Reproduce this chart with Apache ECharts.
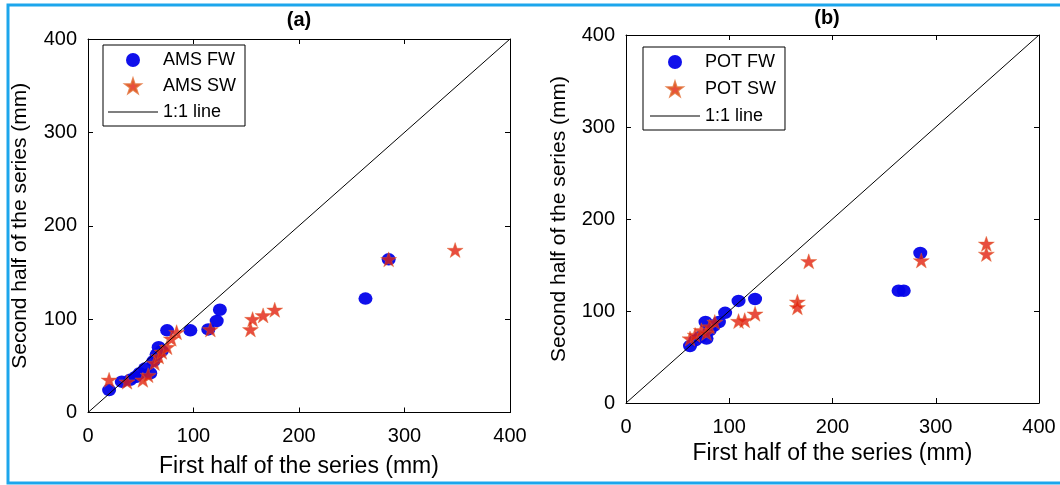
<!DOCTYPE html>
<html>
<head>
<meta charset="utf-8">
<script src="https://cdn.jsdelivr.net/npm/echarts@6/dist/echarts.min.js"></script>
<style>
html,body{margin:0;padding:0;background:#fff;}
#chart{width:1060px;height:485px;}
</style>
</head>
<body>
<div id="chart"></div>
<script>
// ---- data (mm) ----
var axisTicks = [0, 100, 200, 300, 400];
var panelTitles = ['(a)', '(b)'];
var xTitle = 'First half of the series (mm)';
var yTitle = 'Second half of the series (mm)';
var namesA = ['AMS FW', 'AMS SW', '1:1 line'];
var namesB = ['POT FW', 'POT SW', '1:1 line'];
var oneToOne = [[0, 0], [400, 400]];

var amsFW = [[20,24],[32,33],[40,35],[45,38],[49,42],[54,47],[59,42],[62,55],[65,62],[67,70],[70,66],[75,88],[97,88],[114,89],[122,98],[125,110],[263,122],[285,164]];
var amsSW = [[20,35],[37,33],[52,35],[57,40],[63,53],[67,60],[70,65],[75,70],[79,79],[84,86],[116,89],[154,89],[156,100],[166,104],[177,110],[285,164],[348,174]];
var potFW = [[62,62],[67,68],[72,72],[77,88],[78,70],[81,79],[85,84],[90,88],[96,98],[109,111],[125,113],[264,122],[269,122],[285,163]];
var potSW = [[62,70],[67,74],[73,79],[78,76],[81,83],[86,88],[109,89],[115,90],[125,97],[166,110],[166,104],[177,154],[286,155],[349,173],[349,162]];

// ---- styling ----
var FONT = '"Liberation Sans", Arial, sans-serif';
var BLUE = '#0303EA';
var RED = '#E2200F';
var STAR = 'path://M50,0 L61.8,35.5 L99,35.5 L68.9,57.4 L80.4,93 L50,71 L19.6,93 L31.1,57.4 L1,35.5 L38.2,35.5 Z';
var LINE_ICON = 'path://M0,0 L100,0 L100,2.4 L0,2.4 Z';

var grids = [
  {left: 88, top: 39, width: 422, height: 373.5},
  {left: 626, top: 35, width: 413, height: 368}
];

function mkX(gi, pos, nameGap) {
  var main = pos === 'bottom';
  return {
    gridIndex: gi, type: 'value', position: pos,
    min: axisTicks[0], max: axisTicks[axisTicks.length - 1], interval: axisTicks[1] - axisTicks[0],
    name: main ? xTitle : '', nameLocation: 'middle', nameGap: nameGap,
    nameTextStyle: {fontFamily: FONT, fontSize: 23, color: '#000'},
    axisLine: {show: true, onZero: false, lineStyle: {color: '#000', width: 1}},
    axisTick: {show: true, inside: true, length: 5, lineStyle: {color: '#000'}},
    axisLabel: {show: main, fontFamily: FONT, fontSize: 20, color: '#000', margin: 14},
    splitLine: {show: false}
  };
}
function mkY(gi, pos, nameGap) {
  var main = pos === 'left';
  return {
    gridIndex: gi, type: 'value', position: pos,
    min: axisTicks[0], max: axisTicks[axisTicks.length - 1], interval: axisTicks[1] - axisTicks[0],
    name: main ? yTitle : '', nameLocation: 'middle', nameGap: nameGap, nameRotate: 90,
    nameTextStyle: {fontFamily: FONT, fontSize: 21, color: '#000'},
    axisLine: {show: true, onZero: false, lineStyle: {color: '#000', width: 1}},
    axisTick: {show: true, inside: true, length: 5, lineStyle: {color: '#000'}},
    axisLabel: {show: main, fontFamily: FONT, fontSize: 20, color: '#000', margin: 11},
    splitLine: {show: false}
  };
}

function fwSeries(name, data, xi) {
  return {name: name, type: 'scatter', xAxisIndex: xi, yAxisIndex: xi, data: data,
    symbol: 'circle', symbolSize: [14, 12.5], z: 3,
    itemStyle: {color: BLUE, opacity: 0.95}};
}
function swSeries(name, data, xi) {
  return {name: name, type: 'scatter', xAxisIndex: xi, yAxisIndex: xi, data: data,
    symbol: STAR, symbolSize: [16, 15], z: 4,
    itemStyle: {color: RED, borderColor: '#E0662A', borderWidth: 0.5}};
}
function lineSeries(xi) {
  return {name: '1:1 line', type: 'line', xAxisIndex: xi, yAxisIndex: xi, data: oneToOne,
    symbol: 'none', showSymbol: false, z: 5,
    itemStyle: {color: '#000'}, lineStyle: {color: '#000', width: 1}};
}

function mkLegend(names, left, top, pad, gap) {
  return {
    data: [
      {name: names[0], icon: 'circle'},
      {name: names[1], icon: STAR},
      {name: names[2], icon: LINE_ICON, itemStyle: {color: '#000', borderWidth: 0}}
    ],
    orient: 'vertical', left: left, top: top,
    padding: pad, itemGap: gap, itemWidth: 50, itemHeight: 14,
    backgroundColor: '#fff', borderColor: '#000', borderWidth: 1,
    textStyle: {fontFamily: FONT, fontSize: 18, color: '#000'},
    selectedMode: false
  };
}

var chart = echarts.init(document.getElementById('chart'), null, {renderer: 'canvas'});
chart.setOption({
  animation: false,
  backgroundColor: '#fff',
  grid: grids,
  xAxis: [mkX(0, 'bottom', 43), mkX(0, 'top', 0), mkX(1, 'bottom', 38), mkX(1, 'top', 0)],
  yAxis: [mkY(0, 'left', 57), mkY(0, 'right', 0), mkY(1, 'left', 56), mkY(1, 'right', 0)],
  legend: [
    mkLegend(namesA, 103, 45, [6, 9, 5, 5], 8),
    mkLegend(namesB, 643, 47, [6, 9, 5, 7], 9)
  ],
  series: [
    fwSeries('AMS FW', amsFW, 0), swSeries('AMS SW', amsSW, 0), lineSeries(0),
    fwSeries('POT FW', potFW, 2), swSeries('POT SW', potSW, 2), lineSeries(2)
  ],
  graphic: [
    {type: 'rect', shape: {x: 8, y: 5, width: 1070, height: 478}, silent: true, z: 100,
     style: {fill: 'none', stroke: '#1CA6EC', lineWidth: 3}},
    {type: 'text', x: 299, y: 20, silent: true,
     style: {text: panelTitles[0], fontFamily: FONT, fontSize: 20, fontWeight: 'bold', fill: '#000', textAlign: 'center', textVerticalAlign: 'middle'}},
    {type: 'text', x: 827, y: 18, silent: true,
     style: {text: panelTitles[1], fontFamily: FONT, fontSize: 20, fontWeight: 'bold', fill: '#000', textAlign: 'center', textVerticalAlign: 'middle'}}
  ]
});
</script>
</body>
</html>
